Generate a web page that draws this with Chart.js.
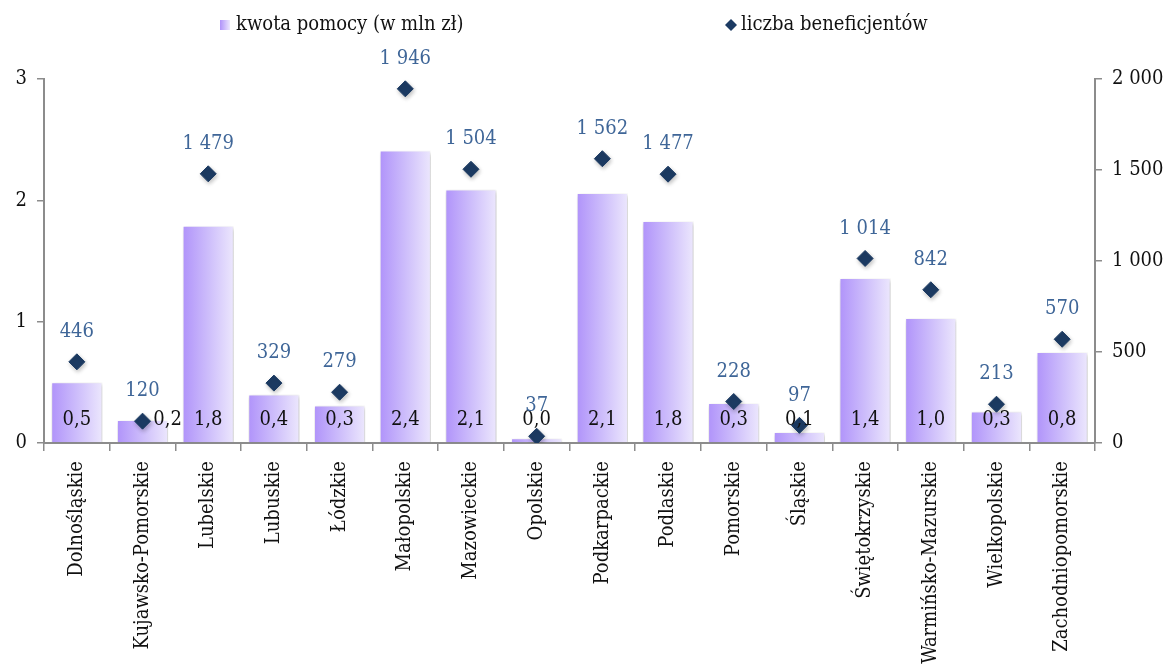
<!DOCTYPE html>
<html lang="pl">
<head>
  <meta charset="UTF-8" />
  <title>Kwota pomocy i liczba beneficjentów wg województw</title>
  <script src="https://cdn.jsdelivr.net/npm/chart.js"></script>
  <style>
    html, body { margin: 0; padding: 0; background: #fff; }
    #wrap { width: 1168px; height: 664px; position: relative; }
  </style>
</head>
<body>
  <div id="wrap"><canvas id="wykres" width="1168" height="664"></canvas></div>

  <script>
    // dane
    const wojewodztwa = ['Dolnośląskie', 'Kujawsko-Pomorskie', 'Lubelskie', 'Lubuskie', 'Łódzkie',
      'Małopolskie', 'Mazowieckie', 'Opolskie', 'Podkarpackie', 'Podlaskie', 'Pomorskie', 'Śląskie',
      'Świętokrzyskie', 'Warmińsko-Mazurskie', 'Wielkopolskie', 'Zachodniopomorskie'];
    const kwotaPomocy = [0.50, 0.19, 1.79, 0.40, 0.31, 2.41, 2.09, 0.04, 2.06, 1.83, 0.33, 0.09, 1.36, 1.03, 0.26, 0.75];
    const liczbaBenef = [446, 120, 1479, 329, 279, 1946, 1504, 37, 1562, 1477, 228, 97, 1014, 842, 213, 570];
    const ticksLewa = [0, 1, 2, 3];
    const ticksPrawa = [0, 500, 1000, 1500, 2000];

    const FONT = '"DejaVu Serif Condensed", "Liberation Serif", serif';
    const SZARY = '#8c8c8c';
    const ROMB = '#1c3b63';
    const NIEBIESKI = '#3f6698';
    const PROCENT_KAT = 0.78;

    const fmtPL = (v) => String(Math.round(v)).replace(/\B(?=(\d{3})+(?!\d))/g, ' ');
    const fmtKwota = (v) => v.toFixed(1).replace('.', ',');

    // gradient słupka od lewej do prawej (liczony ze skali x)
    function gradientSlupka(ctx) {
      const chart = ctx.chart;
      const sx = chart.scales && chart.scales.x;
      if (!chart.chartArea || !sx || ctx.dataIndex === undefined) return '#c9b6fb';
      const xc = sx.getPixelForValue(ctx.dataIndex);
      const w = (sx.width / wojewodztwa.length) * PROCENT_KAT;
      if (!isFinite(xc) || !isFinite(w)) return '#c9b6fb';
      const g = chart.ctx.createLinearGradient(xc - w / 2, 0, xc + w / 2, 0);
      g.addColorStop(0, '#b093fa');
      g.addColorStop(0.5, '#cdbdfb');
      g.addColorStop(1, '#ece7fd');
      return g;
    }

    // cień pod elementami
    const cien = {
      id: 'cien',
      beforeDatasetDraw(chart) {
        const c = chart.ctx;
        c.save();
        c.shadowColor = 'rgba(0,0,0,0.25)';
        c.shadowBlur = 4;
        c.shadowOffsetX = 1;
        c.shadowOffsetY = 2;
      },
      afterDatasetDraw(chart) {
        chart.ctx.restore();
      }
    };

    // przesunięcia etykiet słupków kolidujących z rombem
    const przesuniecieEtykiety = { 1: 25 };

    const etykiety = {
      id: 'etykiety',
      afterDatasetsDraw(chart) {
        const c = chart.ctx;
        const yBase = chart.scales.y.getPixelForValue(0);
        c.save();
        c.font = '20px ' + FONT;
        c.textAlign = 'center';
        c.textBaseline = 'middle';
        // wartości słupków
        c.fillStyle = '#111';
        chart.getDatasetMeta(1).data.forEach((bar, i) => {
          const dx = przesuniecieEtykiety[i] || 0;
          c.fillText(fmtKwota(kwotaPomocy[i]), bar.x + dx, yBase - 23);
        });
        // wartości rombów
        c.fillStyle = NIEBIESKI;
        chart.getDatasetMeta(0).data.forEach((pt, i) => {
          c.fillText(fmtPL(liczbaBenef[i]), pt.x, pt.y - 30);
        });
        c.restore();
      },
      afterDraw(chart) {
        // legenda
        const c = chart.ctx;
        c.save();
        c.font = '20px ' + FONT;
        c.textBaseline = 'middle';
        const y = 25;
        const g = c.createLinearGradient(220, 0, 230, 0);
        g.addColorStop(0, '#b093fa');
        g.addColorStop(1, '#ece7fd');
        c.fillStyle = g;
        c.fillRect(220, y - 5, 10, 10);
        c.fillStyle = '#111';
        c.fillText('kwota pomocy (w mln zł)', 236, y);
        c.fillStyle = ROMB;
        c.beginPath();
        c.moveTo(731, y - 6);
        c.lineTo(737, y);
        c.lineTo(731, y + 6);
        c.lineTo(725, y);
        c.closePath();
        c.fill();
        c.fillStyle = '#111';
        c.fillText('liczba beneficjentów', 741, y);
        c.restore();
      }
    };

    const ctx = document.getElementById('wykres').getContext('2d');

    new Chart(ctx, {
      data: {
        labels: wojewodztwa,
        datasets: [
          {
            type: 'line',
            label: 'liczba beneficjentów',
            data: liczbaBenef,
            yAxisID: 'y1',
            showLine: false,
            pointStyle: 'rectRot',
            pointRadius: 8,
            pointBackgroundColor: ROMB,
            pointBorderColor: ROMB,
            order: 0
          },
          {
            type: 'bar',
            label: 'kwota pomocy (w mln zł)',
            data: kwotaPomocy,
            yAxisID: 'y',
            backgroundColor: gradientSlupka,
            borderColor: 'rgba(255,255,255,0.9)',
            borderWidth: 1,
            categoryPercentage: PROCENT_KAT,
            barPercentage: 1.0,
            order: 1
          }
        ]
      },
      options: {
        responsive: false,
        animation: false,
        layout: { padding: { top: 79, left: 0, right: 0, bottom: 0 } },
        plugins: {
          legend: { display: false },
          tooltip: { enabled: false }
        },
        scales: {
          x: {
            offset: true,
            grid: {
              offset: true,
              drawOnChartArea: false,
              color: SZARY,
              tickLength: 8,
              lineWidth: 1.5
            },
            border: { color: SZARY, width: 2 },
            ticks: {
              autoSkip: false,
              maxRotation: 90,
              minRotation: 90,
              padding: 10,
              color: '#111',
              font: { family: FONT, size: 20 }
            },
            afterFit(s) { s.height = 221; }
          },
          y: {
            position: 'left',
            min: 0,
            max: 3,
            afterBuildTicks(s) { s.ticks = ticksLewa.map(v => ({ value: v })); },
            grid: { drawOnChartArea: false, color: SZARY, tickLength: 7, lineWidth: 1.5 },
            border: { color: SZARY, width: 2 },
            ticks: {
              padding: 10,
              color: '#111',
              font: { family: FONT, size: 20 },
              callback: (v) => String(v)
            },
            afterFit(s) { s.width = 44; }
          },
          y1: {
            position: 'right',
            min: 0,
            max: 2000,
            afterBuildTicks(s) { s.ticks = ticksPrawa.map(v => ({ value: v })); },
            grid: { drawOnChartArea: false, color: SZARY, tickLength: 7, lineWidth: 1.5 },
            border: { color: SZARY, width: 2 },
            ticks: {
              padding: 10,
              color: '#111',
              font: { family: FONT, size: 20 },
              callback: (v) => fmtPL(v)
            },
            afterFit(s) { s.width = 73; }
          }
        }
      },
      plugins: [cien, etykiety]
    });
  </script>
</body>
</html>
